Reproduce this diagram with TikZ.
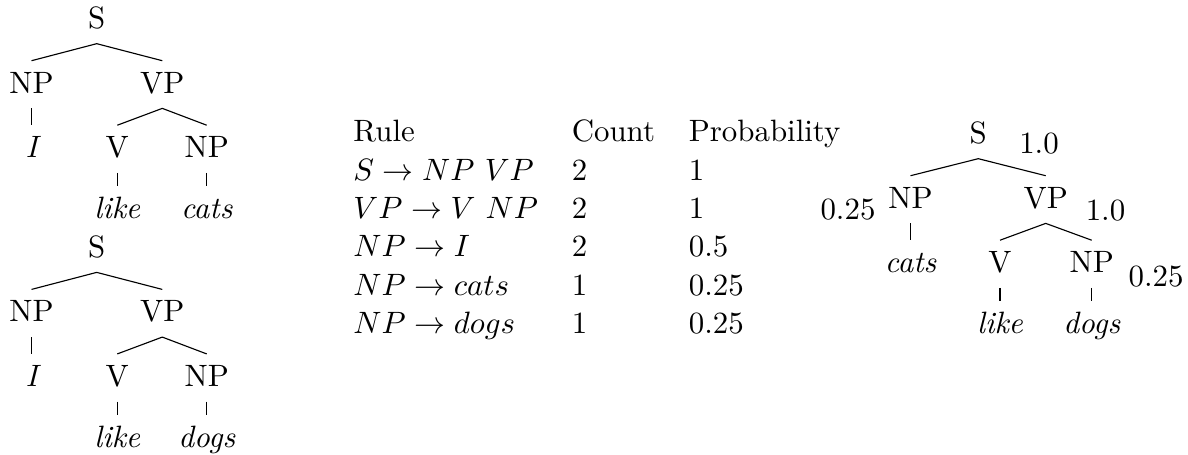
\documentclass[11pt,tikz,border=0pt]{standalone}
\begin{document}
\begin{tikzpicture}[x=0.3546pt, y=-0.3546pt,
  tnode/.style={anchor=base, inner ysep=3.65pt, text height=7.6pt, text depth=1.6pt},
  leaf/.style={tnode, font=\itshape},
  prob/.style={anchor=base}]
  \useasboundingbox (0,0) rectangle (1188,454);
  % the two training trees
  \foreach \dy/\obj/\t in {0/cats/a, 228.7/dogs/b} {
    \node[tnode] (s\t) at (96.7,28.3+\dy) {S};
    \node[tnode] (np\t) at (31.5,93+\dy) {NP};
    \node[tnode] (vp\t) at (162.3,93+\dy) {VP};
    \node[leaf] (i\t) at (31.5,157.5+\dy) {I};
    \node[tnode] (v\t) at (117.3,157.5+\dy) {V};
    \node[tnode] (obj\t) at (206.7,157.5+\dy) {NP};
    \node[leaf] (like\t) at (117.3,218.5+\dy) {like};
    \node[leaf] (word\t) at (206.7,218.5+\dy) {\obj};
    \draw (s\t.south) -- (np\t.north) (s\t.south) -- (vp\t.north);
    \draw (vp\t.south) -- (v\t.north) (vp\t.south) -- (obj\t.north);
    \draw (np\t.south) -- (i\t.north);
    \draw (v\t.south) -- (like\t.north);
    \draw (obj\t.south) -- (word\t.north);
  }
  % rule counts
  \node[anchor=base west, inner sep=0pt] (rules) at (336,141.7) {%
    \begin{tabular}[t]{lll}
      Rule & Count & Probability\\
      $S \rightarrow NP\ VP$ & 2 & 1\\
      $VP \rightarrow V\ NP$ & 2 & 1\\
      $NP \rightarrow I$ & 2 & 0.5\\
      $NP \rightarrow cats$ & 1 & 0.25\\
      $NP \rightarrow dogs$ & 1 & 0.25
    \end{tabular}};
  % new tree with probabilities
  \node[tnode] (sc) at (978.3,143.3) {S};
  \node[tnode] (npc) at (910.5,208) {NP};
  \node[tnode] (vpc) at (1045.7,208) {VP};
  \node[leaf] (catsc) at (910.5,272.5) {cats};
  \node[tnode] (vc) at (1000,272.5) {V};
  \node[tnode] (objc) at (1091.7,272.5) {NP};
  \node[leaf] (likec) at (1000,333.5) {like};
  \node[leaf] (dogsc) at (1091.7,333.5) {dogs};
  \draw (sc.south) -- (npc.north) (sc.south) -- (vpc.north);
  \draw (vpc.south) -- (vc.north) (vpc.south) -- (objc.north);
  \draw (npc.south) -- (catsc.north);
  \draw (vc.south) -- (likec.north);
  \draw (objc.south) -- (dogsc.north);
  \node[prob] (p-s) at (1039,153.3) {1.0};
  \node[prob] (p-vp) at (1105.5,220) {1.0};
  \node[prob] (p-np) at (848,219) {0.25};
  \node[prob] (p-obj) at (1156,286.7) {0.25};
\end{tikzpicture}
\end{document}
